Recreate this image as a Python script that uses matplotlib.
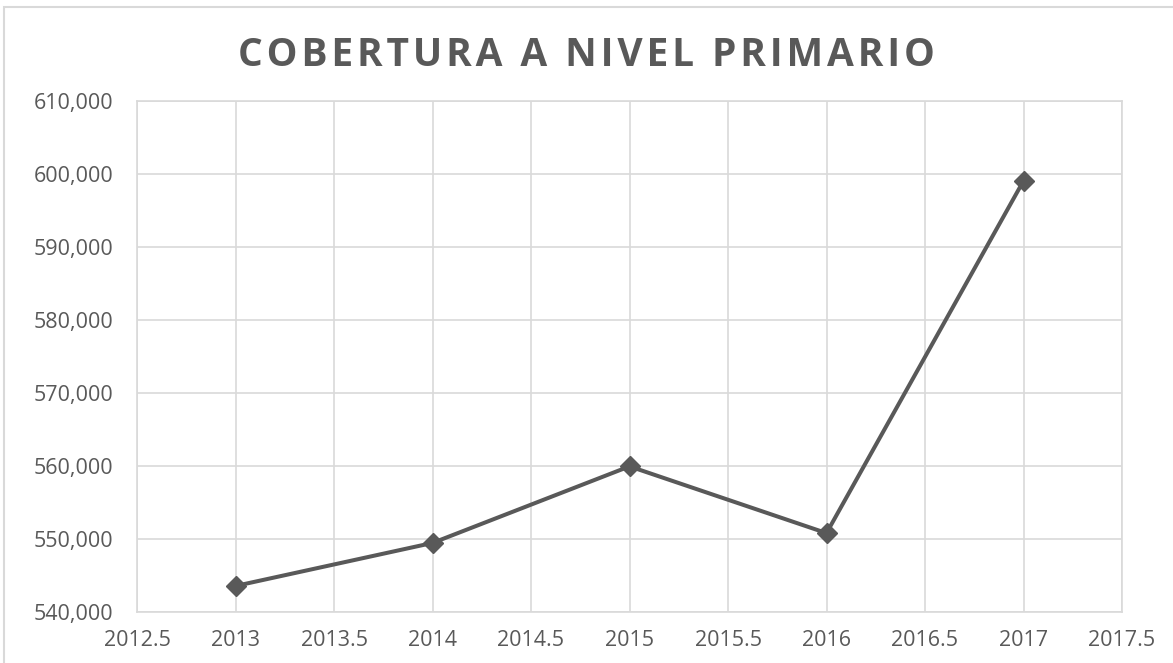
import matplotlib.pyplot as plt
import matplotlib.ticker as mticker
from matplotlib.patches import Rectangle

# data
years = [2013, 2014, 2015, 2016, 2017]
cobertura = [543500, 549400, 559900, 550750, 599050]

gray = "#595959"
gridColor = "#d9d9d9"

plt.rcParams['font.family'] = ['Open Sans', 'DejaVu Sans']

fig = plt.figure(figsize=(11.73, 6.63), dpi=100)
ax = fig.add_axes([137 / 1173, 1 - 611.5 / 663, (1122 - 137) / 1173, (611.5 - 101) / 663])

# thin border round the chart area
fig.patches.append(Rectangle((4 / 1173, -0.1), 1.2, 1 - 7 / 663 + 0.1,
                             transform=fig.transFigure, fill=False,
                             edgecolor="#d9d9d9", linewidth=1.5))

ax.plot(years, cobertura, color=gray, linewidth=2.9, marker='D', ms=10,
        zorder=3)

ax.set_xlim(2012.5, 2017.5)
ax.set_ylim(540000, 610000)
ax.xaxis.set_major_locator(mticker.MultipleLocator(0.5))
ax.yaxis.set_major_locator(mticker.MultipleLocator(10000))
ax.xaxis.set_major_formatter(mticker.FuncFormatter(lambda v, p: f"{v:g}"))
ax.yaxis.set_major_formatter(mticker.FuncFormatter(lambda v, p: f"{v:,.0f}"))

ax.grid(True, color=gridColor, linewidth=1.2)
for s in ax.spines.values():
    s.set_color(gridColor)
    s.set_linewidth(1.2)
ax.tick_params(length=0, labelsize=15.5, labelcolor=gray)
ax.tick_params(axis='y', pad=17)
ax.tick_params(axis='x', pad=13)

# spaced-out title
title = "COBERTURA A NIVEL PRIMARIO"
fig.text(0.5, 1 - 55 / 663, "\u200a".join(title), ha='center', va='center',
         fontsize=28, fontweight='bold', color=gray)

fig.savefig("out.png", dpi=100)
